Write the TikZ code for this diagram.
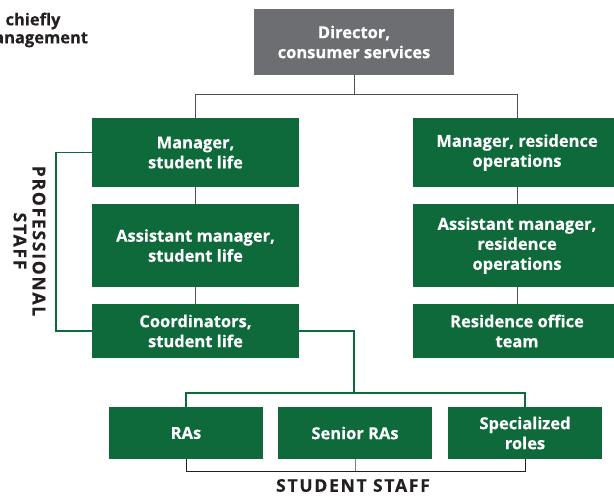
\documentclass[tikz,border=0pt]{standalone}
\usepackage{fontspec}
\setmainfont{Open Sans}[BoldFeatures={FakeBold=0.4}]
\usepackage{xcolor}
\usepackage{tikz}
\definecolor{boxgreen}{RGB}{14,106,58}
\definecolor{boxgray}{RGB}{109,110,113}
\definecolor{linegray}{RGB}{80,80,82}
\definecolor{inkdark}{RGB}{35,31,32}

\begin{document}
\begin{tikzpicture}[x=1pt, y=-1pt,
  every node/.style={font=\fontsize{16.5}{20}\selectfont\bfseries},
  unit/.style={fill=boxgreen, text=white, align=center, inner sep=0pt},
  conn/.style={draw=linegray, line width=0.9pt},
  bracket/.style={draw=boxgreen, line width=1.1pt},
  caption/.style={text=inkdark, align=center,
    font=\fontsize{17.5}{19}\selectfont\bfseries\addfontfeatures{LetterSpace=10}}]

\useasboundingbox (0,0) rectangle (614,496);

% note at top left
\node[text=inkdark, align=center, font=\fontsize{16.5}{18}\selectfont\bfseries]
  (note) at (33,30) {chiefly\\management};

% director
\node[unit, fill=boxgray, minimum width=200pt, minimum height=66pt]
  (dir) at (354,42) {Director,\\consumer services};

% student life column
\node[unit, minimum width=207pt, minimum height=69pt] (msl) at (195.5,152.5) {Manager,\\student life};
\node[unit, minimum width=207pt, minimum height=83pt] (asl) at (195.5,245.5) {Assistant manager,\\student life};
\node[unit, minimum width=207pt, minimum height=54pt] (csl) at (195.5,331) {Coordinators,\\student life};

% residence column
\node[unit, minimum width=208pt, minimum height=69pt] (mro) at (517,152.5) {Manager, residence\\operations};
\node[unit, minimum width=208pt, minimum height=83pt] (aro) at (517,245.5) {Assistant manager,\\residence\\operations};
\node[unit, minimum width=208pt, minimum height=54pt] (rot) at (517,331) {Residence office\\team};

% student staff
\node[unit, minimum width=154pt, minimum height=52pt] (ras) at (186,433) {RAs};
\node[unit, minimum width=154pt, minimum height=52pt] (sra) at (355,433) {Senior RAs};
\node[unit, minimum width=154pt, minimum height=52pt] (spe) at (525,433) {Specialized\\roles};

% connectors
\draw[conn] (dir.south) -- ++(0,19) coordinate (split);
\draw[conn] (msl.north) |- (split) -| (mro.north);
\draw[conn] (msl) -- (asl) -- (csl);
\draw[conn] (mro) -- (aro) -- (rot);

% professional bracket
\coordinate (profL) at (56,0);
\draw[bracket] (msl.west) -- (msl.west -| profL) -- (csl.west -| profL) -- (csl.west);
\node[caption, rotate=-90] (prof) at (29.5,241) {PROFESSIONAL\\STAFF};

% coordinators to student staff
\coordinate (stud) at (354,393);
\draw[bracket] (csl.east) -| (stud);
\draw[bracket] (ras.north) |- (stud) -| (spe.north);

% student staff bracket
\draw[conn, draw=inkdark] (ras.south) -- ++(0,12) -| (spe.south);
\draw[conn, draw=gray] (sra.south) -- ++(0,12);
\node[caption] (studcap) at (353,485.5) {STUDENT STAFF};

\end{tikzpicture}
\end{document}
